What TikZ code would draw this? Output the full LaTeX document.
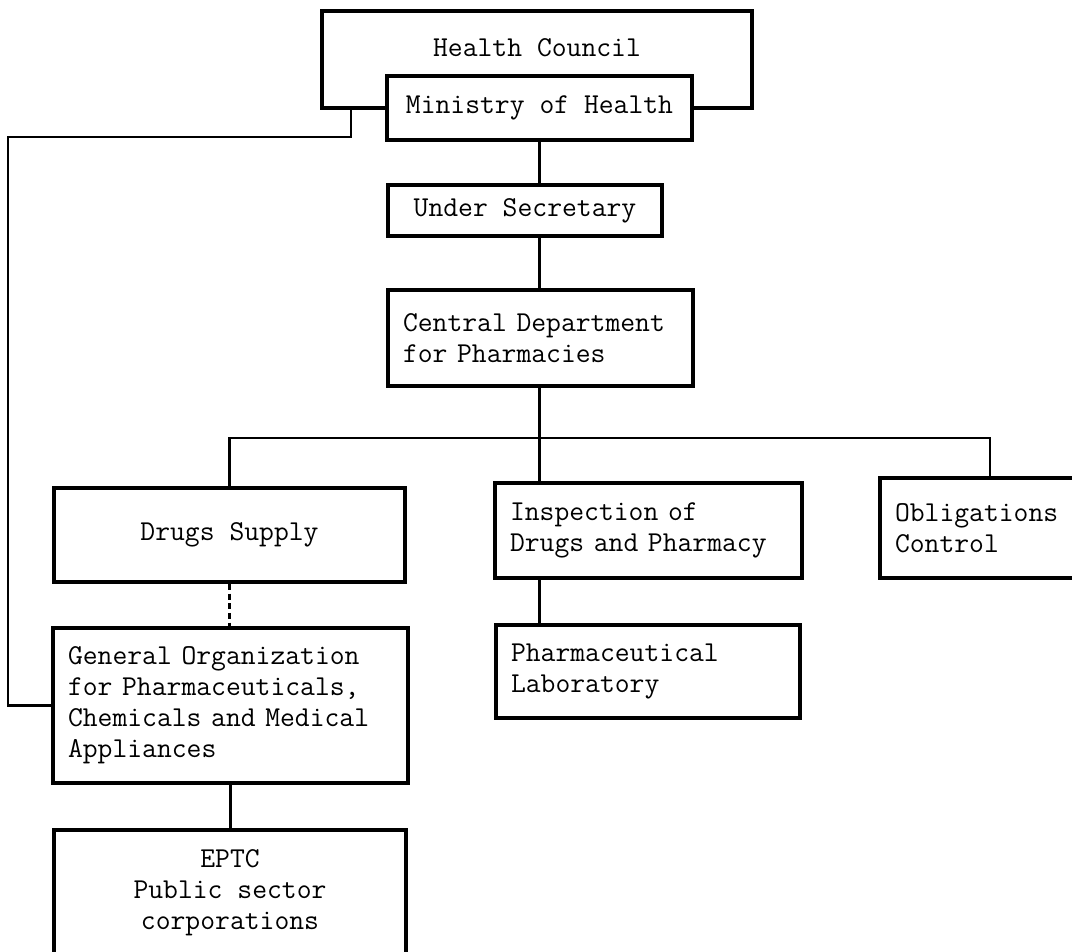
\documentclass[tikz,border=0pt]{standalone}
\usepackage{tikz}

\begin{document}
\begin{tikzpicture}[x=0.02cm, y=-0.02cm,
		unit/.style={
			% The shape:
			rectangle, inner xsep=0.3cm, inner ysep=0pt,
			% The rest
			line width=2.2pt, draw=black, fill=white,
			font=\ttfamily\fontsize{16.4}{17.6}\selectfont},
		frame/.style={line width=2.2pt},
		link/.style={line width=1.6pt}]
		\useasboundingbox (0,0) rectangle (1072,951);
		\clip (0,0) rectangle (1072,951);

		\node (c_hc)     [unit, draw=none, fill=none, minimum width=8.52cm, minimum height=1.4cm] at (537,48) {Health Council};
		\node (c_moh)    [unit, minimum width=6.1cm, minimum height=1.28cm] at (539.5,108) {Ministry of Health};
		\node (c_usec)   [unit, minimum width=5.48cm, minimum height=1.02cm] at (525,210.5) {Under Secretary};
		\node (c_cdp)    [unit, text width=5.5cm, align=left, minimum height=1.92cm] at (540.5,338) {Central Department\\for Pharmacies};
		\node (c_supply) [unit, minimum width=7.02cm, minimum height=1.88cm] at (229.5,535) {Drugs Supply};
		\node (c_insp)   [unit, text width=5.54cm, align=left, minimum height=1.9cm] at (648.5,530.5) {Inspection of\\Drugs and Pharmacy};
		\node (c_oblig)  [unit, text width=3.8cm, align=left, minimum height=2cm] at (990,528) {Obligations\\Control};
		\node (c_lab)    [unit, text width=5.48cm, align=left, minimum height=1.86cm] at (648,671.5) {Pharmaceutical\\Laboratory};
		\node (c_gopc)   [unit, text width=6.5cm, align=left, minimum height=3.1cm] at (230.5,705.5) {General Organization\\for Pharmaceuticals,\\Chemicals and Medical\\Appliances};
		\node (c_eptc)   [unit, align=center, minimum width=7.04cm, minimum height=2.52cm] at (230,893) {EPTC\\Public sector\\corporations};

		\coordinate (j_hc)   at (351,108);
		\coordinate (j_left) at (8,137);
		\coordinate (j_bus)  at (540,438);

		% council frame behind the ministry
		\draw[frame] (c_moh.west) -| (c_hc.north west) -- (c_hc.north east) |- (c_moh.east);

		\draw[link] (j_hc) |- (j_left) |- (c_gopc.west);
		\draw[link] (c_moh.south) -- (c_moh.south |- c_usec.north);
		\draw[link] (c_moh.south |- c_usec.south) -- (c_moh.south |- c_cdp.north);
		\draw[link] (c_moh.south |- c_cdp.south) -- (c_moh.south |- c_insp.north);
		\draw[link] (c_moh.south |- c_insp.south) -- (c_moh.south |- c_lab.north);
		\draw[link] (c_supply.north) |- (j_bus) -| (c_oblig.north);
		\draw[link, dash pattern=on 3.5pt off 2pt] (c_supply.south) -- (c_supply.south |- c_gopc.north);
		\draw[link] (c_gopc.south) -- (c_gopc.south |- c_eptc.north);
	\end{tikzpicture}
\end{document}
